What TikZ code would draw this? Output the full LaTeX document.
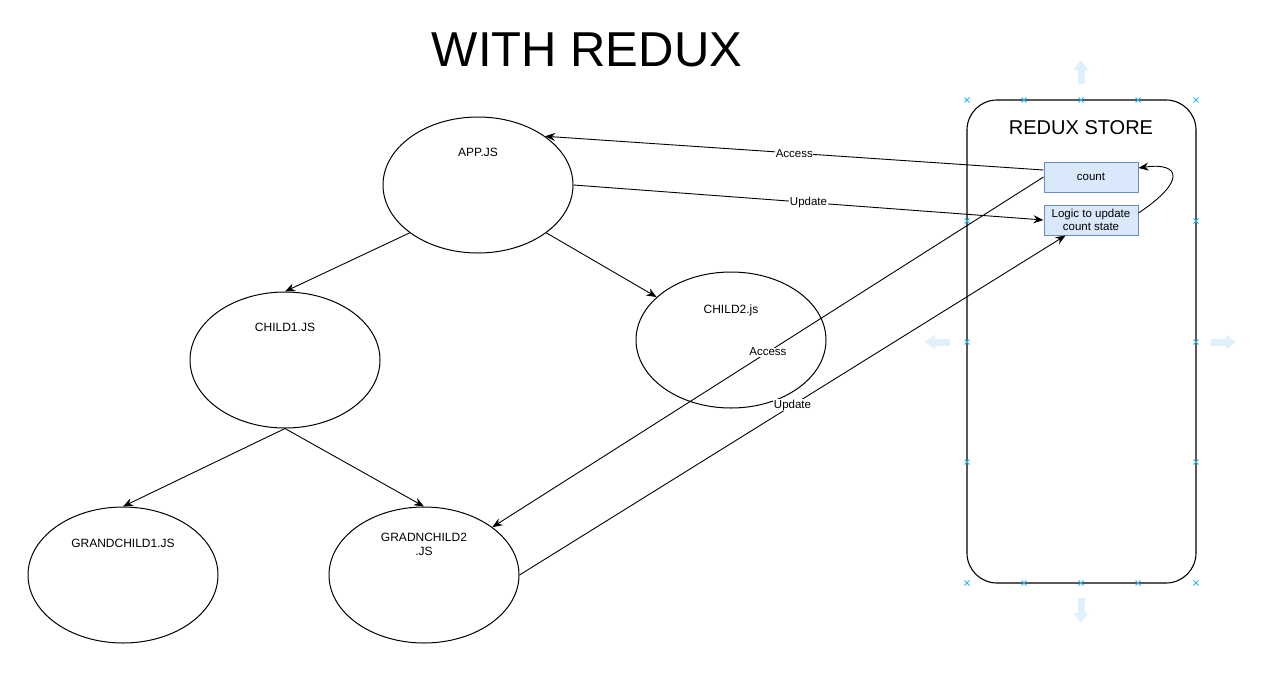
\documentclass[tikz,border=0pt]{standalone}
\usepackage{fontspec}
\setmainfont{Liberation Sans}
\usepackage{tikz}
\usetikzlibrary{arrows.meta,positioning,shapes.geometric}
\definecolor{Ink}{HTML}{000000}
\definecolor{BoxFill}{HTML}{DAE8FC}
\definecolor{BoxRule}{HTML}{6C8EBF}
\definecolor{Handle}{HTML}{29B6F2}
\definecolor{HintBlue}{HTML}{DDF0FC}

\begin{document}
\begin{tikzpicture}[x=1pt, y=-1pt,
  comp/.style={draw=Ink, line width=1pt, ellipse, minimum width=190pt,
    minimum height=136pt, inner sep=0pt},
  comptext/.style={font=\fontsize{12}{14}\selectfont, align=center, text=Ink},
  statebox/.style={draw=BoxRule, line width=1pt, fill=BoxFill,
    minimum width=94pt, minimum height=30pt, inner sep=1pt, align=center,
    font=\fontsize{11.5}{13}\selectfont},
  store/.style={draw=Ink, line width=1.1pt, rounded corners=30pt,
    minimum width=229pt, minimum height=483pt},
  flow/.style={-{Stealth[length=10pt,width=8pt]}, draw=Ink, line width=0.9pt},
  tag/.style={fill=white, inner sep=0.5pt, font=\fontsize{11.5}{13}\selectfont},
  hint/.style={HintBlue, line width=7pt, -{Triangle[width=14pt,length=10pt]}},
  handle/.style={Handle, line width=0.9pt}
]
  \path[use as bounding box, fill=white] (0,0) rectangle (1261,689);

  \node[font=\fontsize{49}{56}\selectfont] (title) at (587,50) {WITH REDUX};

  % components
  \node[comp] (app) at (478,185) {};
  \node[comp] (child1) at (285,360) {};
  \node[comp] (child2) at (731,340) {};
  \node[comp] (gc1) at (123,575) {};
  \node[comp] (gc2) at (424,575) {};
  \node[comptext] (apptxt) at (478,152) {APP.JS};
  \node[comptext] (child1txt) at (285,327) {CHILD1.JS};
  \node[comptext] (child2txt) at (731,310) {CHILD2.js};
  \node[comptext] (gc1txt) at (123,543) {GRANDCHILD1.JS};
  \node[comptext] (gc2txt) at (424,544) {GRADNCHILD2\\.JS};

  % store
  \node[store] (redux) at (1081.5,341.5) {};
  \node[font=\fontsize{20}{24}\selectfont] (storetxt) at (1081,128) {REDUX STORE};
  \node[statebox] (count) at (1091,177) {count};
  \node[statebox] (logic) at (1091,220) {Logic to update\\count state};

  % selection handles
  \foreach \hx in {967,1024,1081,1138,1196}
    \foreach \hy in {100,583}
      \draw[handle] (\hx-2.5,\hy-2.5) -- (\hx+2.5,\hy+2.5) (\hx-2.5,\hy+2.5) -- (\hx+2.5,\hy-2.5);
  \foreach \hx in {967,1196}
    \foreach \hy in {221,342,462}
      \draw[handle] (\hx-2.5,\hy-2.5) -- (\hx+2.5,\hy+2.5) (\hx-2.5,\hy+2.5) -- (\hx+2.5,\hy-2.5);
  \draw[hint] (1081,84) -- (1081,60);
  \draw[hint] (1081,598) -- (1081,623);
  \draw[hint] (950,342) -- (925,342);
  \draw[hint] (1211,342) -- (1236,342);

  % tree
  \draw[flow] (app.215) -- (child1.north);
  \draw[flow] (app.-35) -- (child2.150);
  \draw[flow] (child1.south) -- (gc1.north);
  \draw[flow] (child1.south) -- (gc2.north);

  % store links
  \draw[flow] ([yshift=7pt]count.west) -- node[tag]{Access} (app.36);
  \draw[flow] (app.east) -- node[tag]{Update} (logic.west);
  \draw[flow] (count.west) -- node[tag]{Access} (gc2.35);
  \draw[flow] (gc2.east) -- node[tag]{Update} ([xshift=22pt]logic.south west);
  \draw[flow] ([yshift=7pt]logic.east) .. controls +(48,-32) and +(42,-6) .. ([yshift=9pt]count.east);
\end{tikzpicture}
\end{document}
